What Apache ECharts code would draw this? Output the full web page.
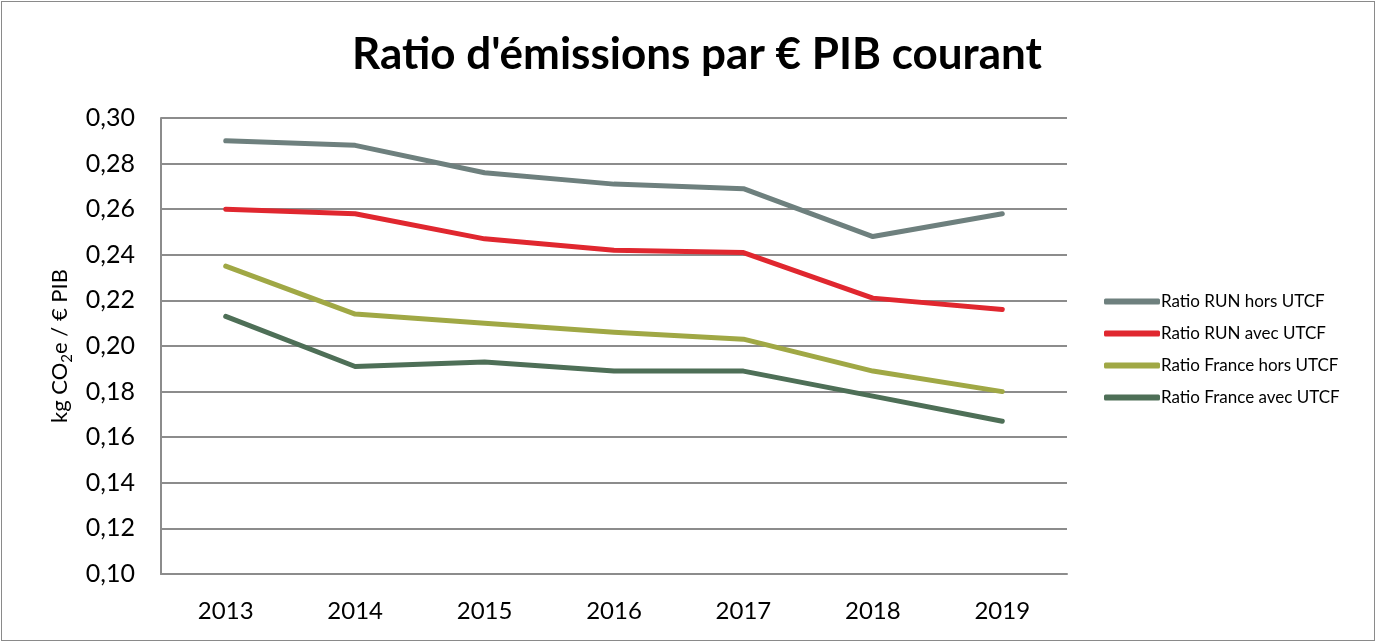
<!DOCTYPE html>
<html>
<head>
<meta charset="utf-8">
<script src="https://cdn.jsdelivr.net/npm/echarts@6/dist/echarts.min.js"></script>
<style>
    html, body { margin: 0; padding: 0; background: #fff; }
    #chart { width: 1372px; height: 638px; border: 1px solid #8a8a8a; margin: 1px; }
</style>
</head>
<body>
<div id="chart"></div>
<script>
    const years = ['2013', '2014', '2015', '2016', '2017', '2018', '2019'];
    const runHors = [0.290, 0.288, 0.276, 0.271, 0.269, 0.248, 0.258];
    const runAvec = [0.260, 0.258, 0.247, 0.242, 0.241, 0.221, 0.216];
    const franceHors = [0.235, 0.214, 0.210, 0.206, 0.203, 0.189, 0.180];
    const franceAvec = [0.213, 0.191, 0.193, 0.189, 0.189, 0.178, 0.167];
    const yTicks = { min: 0.10, max: 0.30, interval: 0.02 };

    const chart = echarts.init(document.getElementById('chart'));

    const mkLine = (name, data, color) => ({
        name: name,
        type: 'line',
        data: data,
        symbol: 'none',
        lineStyle: { width: 5, color: color, cap: 'round', join: 'round' },
        itemStyle: { color: color }
    });

    chart.setOption({
        animation: false,
        title: {
            text: "Ratio d'émissions par € PIB courant",
            left: 690,
            textAlign: 'center',
            top: 26,
            textStyle: { fontFamily: 'Lato', fontWeight: 'bold', fontSize: 44, color: '#000' }
        },
        legend: {
            orient: 'vertical',
            left: 1097,
            top: 286,
            itemWidth: 56,
            itemHeight: 6,
            itemGap: 15,
            icon: 'roundRect',
            textStyle: { fontFamily: 'Lato', fontSize: 17, color: '#000', padding: [0, 0, 0, -4] },
            data: ['Ratio RUN hors UTCF', 'Ratio RUN avec UTCF', 'Ratio France hors UTCF', 'Ratio France avec UTCF']
        },
        grid: { left: 159, right: 307, top: 116, bottom: 66, containLabel: false },
        xAxis: {
            type: 'category',
            data: years,
            boundaryGap: true,
            axisLine: { lineStyle: { color: '#8c8c8c', width: 2 } },
            axisTick: { show: false },
            axisLabel: { fontFamily: 'Lato', fontSize: 24, color: '#000', margin: 25 }
        },
        yAxis: {
            type: 'value',
            min: yTicks.min,
            max: yTicks.max,
            interval: yTicks.interval,
            name: '{a|kg CO}{sub|2}{a|e / € PIB}',
            nameLocation: 'middle',
            nameGap: 84,
            nameRotate: 90,
            nameTextStyle: {
                fontFamily: 'Lato', fontSize: 22, color: '#000',
                rich: {
                    a: { fontFamily: 'Lato', fontSize: 22, color: '#000', lineHeight: 30, verticalAlign: 'middle' },
                    sub: { fontFamily: 'Lato', fontSize: 15, color: '#000', lineHeight: 30, verticalAlign: 'bottom' }
                }
            },
            axisLine: { show: true, lineStyle: { color: '#8c8c8c', width: 2 } },
            axisTick: { show: false },
            splitLine: { lineStyle: { color: '#8c8c8c', width: 2 } },
            axisLabel: {
                fontFamily: 'Lato', fontSize: 25, color: '#000', margin: 26,
                formatter: v => v.toFixed(2).replace('.', ',')
            }
        },
        series: [
            mkLine('Ratio RUN hors UTCF', runHors, '#6e807e'),
            mkLine('Ratio RUN avec UTCF', runAvec, '#e0272f'),
            mkLine('Ratio France hors UTCF', franceHors, '#a0a845'),
            mkLine('Ratio France avec UTCF', franceAvec, '#4e6f57')
        ]
    });
</script>
</body>
</html>
